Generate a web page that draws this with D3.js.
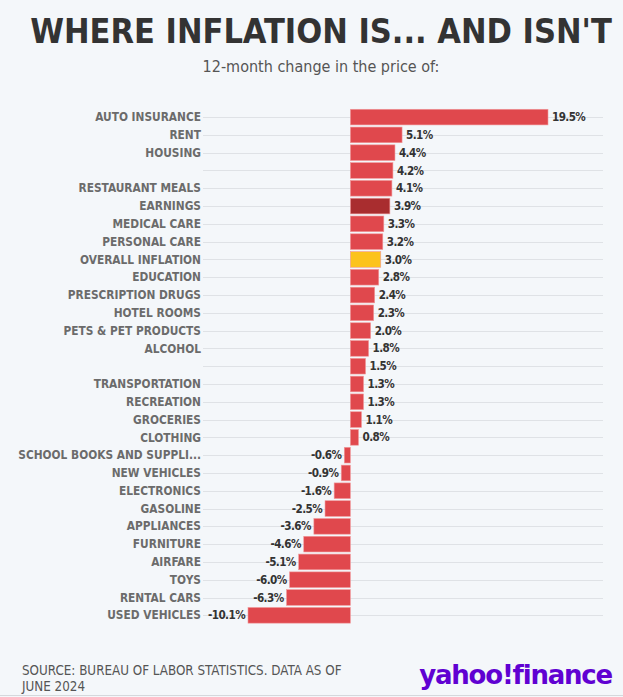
<!DOCTYPE html>
<html lang="en">
  <head>
    <meta charset="UTF-8" />
    <title>Where inflation is... and isn't</title>
    <style>
      body {
        margin: 0;
        background: #f4f7fa;
      }
      .cat {
        font-family: "DejaVu Sans Condensed", "Liberation Sans Narrow", sans-serif;
        font-weight: bold;
        font-size: 11.8px;
        fill: #6b6b6b;
      }
      .val {
        font-family: "DejaVu Sans Condensed", "Liberation Sans Narrow", sans-serif;
        font-weight: bold;
        font-size: 11.6px;
        letter-spacing: -0.6px;
        fill: #333;
      }
      .grid {
        stroke: #dfe2e6;
        stroke-width: 1;
      }
    </style>
  </head>

  <body>
    <script src="https://cdn.jsdelivr.net/npm/d3@7"></script>
    <script>
      /* global d3 */

      const categories = [
        "AUTO INSURANCE", "RENT", "HOUSING", "", "RESTAURANT MEALS", "EARNINGS",
        "MEDICAL CARE", "PERSONAL CARE", "OVERALL INFLATION", "EDUCATION",
        "PRESCRIPTION DRUGS", "HOTEL ROOMS", "PETS & PET PRODUCTS", "ALCOHOL", "",
        "TRANSPORTATION", "RECREATION", "GROCERIES", "CLOTHING",
        "SCHOOL BOOKS AND SUPPLI...", "NEW VEHICLES", "ELECTRONICS", "GASOLINE",
        "APPLIANCES", "FURNITURE", "AIRFARE", "TOYS", "RENTAL CARS", "USED VEHICLES"
      ];
      const changes = [
        19.5, 5.1, 4.4, 4.2, 4.1, 3.9, 3.3, 3.2, 3.0, 2.8, 2.4, 2.3, 2.0, 1.8, 1.5,
        1.3, 1.3, 1.1, 0.8, -0.6, -0.9, -1.6, -2.5, -3.6, -4.6, -5.1, -6.0, -6.3, -10.1
      ];
      const xDomain = [-10.1, 19.5];

      const width = 623,
        height = 697;

      const data = categories.map((c, i) => ({ i, cat: c, v: changes[i] }));

      const fillFor = d =>
        d.cat === "EARNINGS" ? "#a92d2f" : d.cat === "OVERALL INFLATION" ? "#fcc31c" : "#e0484d";

      // plain hyphen like the original, not the unicode minus
      const fmt = v => v.toFixed(1) + "%";

      const svg = d3
        .select("body")
        .append("svg")
        .attr("width", width)
        .attr("height", height);

      svg.append("rect").attr("width", width).attr("height", height).attr("fill", "#f4f7fa");

      svg.append("text")
        .attr("x", 321)
        .attr("y", 43)
        .attr("text-anchor", "middle")
        .style("font-family", "'DejaVu Sans Condensed', sans-serif")
        .style("font-weight", "bold")
        .style("font-size", "34px")
        .style("fill", "#333")
        .text("WHERE INFLATION IS... AND ISN'T");

      svg.append("text")
        .attr("x", 321)
        .attr("y", 72)
        .attr("text-anchor", "middle")
        .style("font-family", "'DejaVu Sans Condensed', sans-serif")
        .style("font-size", "16px")
        .style("fill", "#555")
        .text("12-month change in the price of:");

      const x = d3.scaleLinear().domain(xDomain).range([248, 548]);
      const y = d3
        .scaleBand()
        .domain(d3.range(categories.length))
        .range([108.2, 624.2])
        .paddingInner(0.12)
        .paddingOuter(0.06);

      const rowY = i => y(i) + y.bandwidth() / 2;

      svg.append("g")
        .selectAll("line")
        .data(data)
        .join("line")
        .attr("class", "grid")
        .attr("x1", 203)
        .attr("x2", 603)
        .attr("y1", d => Math.round(rowY(d.i)) + 0.5)
        .attr("y2", d => Math.round(rowY(d.i)) + 0.5);

      svg.append("g")
        .selectAll("text")
        .data(data)
        .join("text")
        .attr("class", "cat")
        .attr("x", 201)
        .attr("y", d => rowY(d.i))
        .attr("dy", "0.35em")
        .attr("text-anchor", "end")
        .text(d => d.cat);

      svg.append("g")
        .selectAll("rect")
        .data(data)
        .join("rect")
        .attr("x", d => x(Math.min(0, d.v)))
        .attr("y", d => y(d.i))
        .attr("width", d => Math.abs(x(d.v) - x(0)))
        .attr("height", y.bandwidth())
        .attr("fill", fillFor)
        .attr("stroke", "#f09a9c")
        .attr("stroke-width", 0.6);

      svg.append("g")
        .selectAll("text")
        .data(data)
        .join("text")
        .attr("class", "val")
        .attr("x", d => (d.v >= 0 ? x(d.v) + 4 : x(d.v) - 3))
        .attr("y", d => rowY(d.i))
        .attr("dy", "0.35em")
        .attr("text-anchor", d => (d.v >= 0 ? "start" : "end"))
        .text(d => fmt(d.v));

      // footer
      const src = svg.append("text")
        .style("font-family", "'DejaVu Sans Condensed', sans-serif")
        .style("font-size", "13.3px")
        .style("fill", "#555");
      src.append("tspan").attr("x", 22).attr("y", 675).text("SOURCE: BUREAU OF LABOR STATISTICS. DATA AS OF");
      src.append("tspan").attr("x", 22).attr("y", 691).text("JUNE 2024");

      svg.append("text")
        .attr("x", 612)
        .attr("y", 684)
        .attr("text-anchor", "end")
        .style("font-family", "'DejaVu Sans', sans-serif")
        .style("font-weight", "bold")
        .style("font-size", "26px")
        .style("letter-spacing", "-1.2px")
        .style("fill", "#6001d2")
        .text("yahoo!finance");

      svg.append("line")
        .attr("x1", 0)
        .attr("x2", width)
        .attr("y1", 695.5)
        .attr("y2", 695.5)
        .attr("stroke", "#d5d8dc");
    </script>
  </body>
</html>
